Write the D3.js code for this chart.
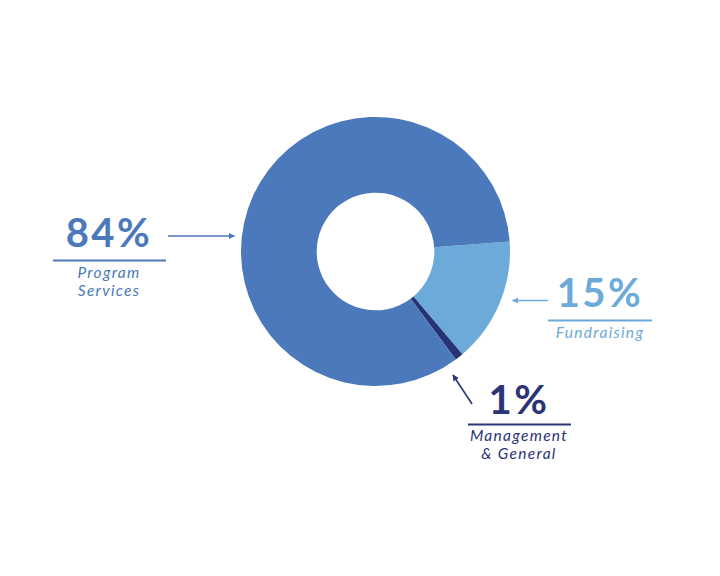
<!DOCTYPE html>
<html>
<head>
<meta charset="utf-8">
<script src="https://cdn.jsdelivr.net/npm/d3@7"></script>
<style>
  html, body { margin: 0; padding: 0; background: #fff; }
  svg { display: block; }
  .pct { font-family: Lato, "Open Sans", sans-serif; font-weight: 700; font-size: 40px; letter-spacing: 2.5px; }
  .lbl { font-family: Lato, "Open Sans", sans-serif; font-style: italic; font-weight: 400; font-size: 15.5px; letter-spacing: 1.3px; }
</style>
</head>
<body>
<div id="chart"></div>
<script>
// Data
const categories = ["Fundraising", "Management & General", "Program Services"];
const values = [15, 1, 84];
const pctLabels = ["15%", "1%", "84%"];
const nameLines = [["Fundraising"], ["Management", "& General"], ["Program", "Services"]];
const colors = ["#6CAADA", "#283373", "#4B79BB"];
const textColors = ["#6CAADA", "#2B3576", "#4B79BB"];

const width = 720, height = 576;
const cx = 375.5, cy = 251.5;
const outerR = 134.5, innerR = 58.8;

const svg = d3.select("#chart").append("svg")
    .attr("width", width)
    .attr("height", height);

// Arrowhead markers, one per colour
const defs = svg.append("defs");
colors.forEach((c, i) => {
    defs.append("marker")
        .attr("id", "arrow" + i)
        .attr("viewBox", "0 0 10 10")
        .attr("refX", 9)
        .attr("refY", 5)
        .attr("markerWidth", 4)
        .attr("markerHeight", 4)
        .attr("markerUnits", "strokeWidth")
        .attr("orient", "auto")
        .append("path")
        .attr("d", "M0,0 L10,5 L0,10 z")
        .attr("fill", textColors[i]);
});

// --- Donut ---
const startDeg = 85.75;
const pie = d3.pie()
    .value(d => d)
    .sort(null)
    .startAngle(startDeg * Math.PI / 180)
    .endAngle(startDeg * Math.PI / 180 + 2 * Math.PI);

const arc = d3.arc()
    .innerRadius(innerR)
    .outerRadius(outerR);

const gDonut = svg.append("g")
    .attr("transform", `translate(${cx},${cy})`);

gDonut.selectAll("path")
    .data(pie(values))
    .enter()
    .append("path")
    .attr("d", arc)
    .attr("fill", (d, i) => colors[i]);

// --- Callouts (layout only) ---
const callouts = [
    { x: 600, pctY: 307, ruleY: 320.5, ruleX: [548, 652], lineY: 338,
      arrow: [[548, 300.5], [512.5, 300.5]] },
    { x: 519, pctY: 414, ruleY: 424.5, ruleX: [468, 571], lineY: 441,
      arrow: [[472, 404], [453, 375]] },
    { x: 109, pctY: 247, ruleY: 260.5, ruleX: [53, 166], lineY: 277.5,
      arrow: [[168, 236], [234.5, 236]] }
];

const gLabels = svg.append("g");

callouts.forEach((c, i) => {
    const g = gLabels.append("g");

    g.append("text")
        .attr("class", "pct")
        .attr("x", c.x)
        .attr("y", c.pctY)
        .attr("text-anchor", "middle")
        .attr("fill", textColors[i])
        .text(pctLabels[i]);

    g.append("line")
        .attr("x1", c.ruleX[0]).attr("x2", c.ruleX[1])
        .attr("y1", c.ruleY).attr("y2", c.ruleY)
        .attr("stroke", textColors[i])
        .attr("stroke-width", 2);

    g.selectAll("text.lbl")
        .data(nameLines[i])
        .enter()
        .append("text")
        .attr("class", "lbl")
        .attr("x", c.x)
        .attr("y", (d, j) => c.lineY + j * 18)
        .attr("text-anchor", "middle")
        .attr("fill", textColors[i])
        .text(d => d);

    g.append("line")
        .attr("x1", c.arrow[0][0]).attr("y1", c.arrow[0][1])
        .attr("x2", c.arrow[1][0]).attr("y2", c.arrow[1][1])
        .attr("stroke", textColors[i])
        .attr("stroke-width", 1.6)
        .attr("marker-end", `url(#arrow${i})`);
});
</script>
</body>
</html>
